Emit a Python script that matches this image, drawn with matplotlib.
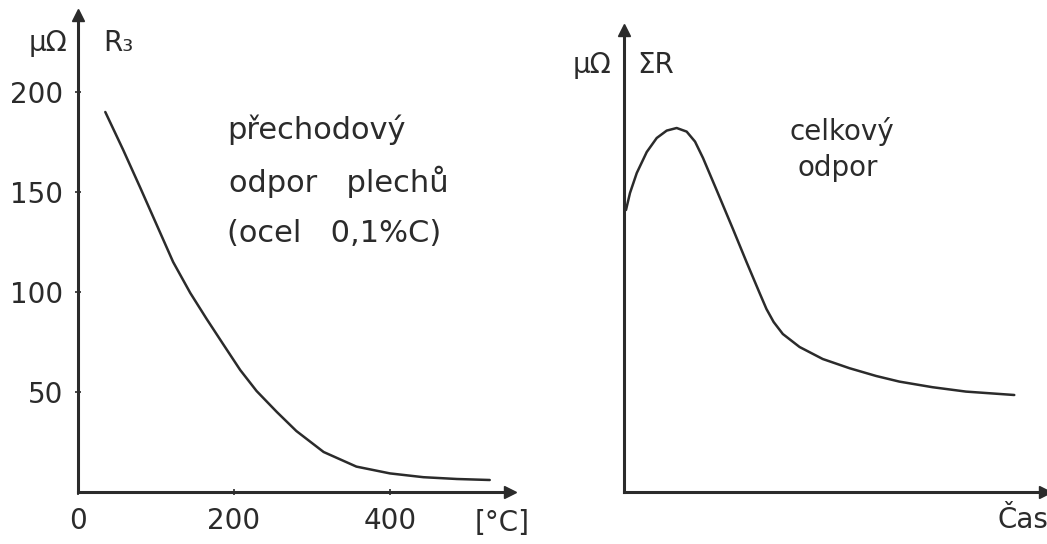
import matplotlib
matplotlib.use("Agg")
import matplotlib.pyplot as plt

# left panel: contact resistance between sheets vs temperature
temp_c = [35, 58, 80, 101, 122, 144, 165, 186, 208, 229, 255, 280, 315, 357, 400, 443, 486, 528]
r3_uohm = [190, 171, 152, 133.5, 115, 99.5, 86.5, 74, 61, 50.5, 40, 30.5, 20, 12.7, 9.3, 7.4, 6.5, 6]
x_ticks = [0, 200, 400]
y_ticks = [50, 100, 150, 200]

# right panel: total resistance vs time (no scale on the original)
time_rel = [0.05, 0.15, 0.32, 0.57, 0.82, 1.07, 1.32, 1.57, 1.78, 1.98, 2.32, 2.73,
            3.07, 3.4, 3.57, 3.75, 3.98, 4.4, 4.98, 5.65, 6.32, 6.9, 7.73, 8.57, 9.78]
sum_r = [141, 149.5, 159.5, 170, 177, 180.7, 182, 180.2, 175.2, 167, 151, 131.5,
         115, 99.4, 91.5, 85, 79, 72.5, 66.5, 61.9, 58, 55.2, 52.4, 50.2, 48.5]

INK = "#2b2b2b"
plt.rcParams["font.family"] = ["DejaVu Sans"]
FS = 20

fig = plt.figure(figsize=(10.47, 5.44), dpi=100)
W, H = 1047, 544

ax1 = fig.add_axes([78 / W, 52 / H, (510 - 78) / W, (492 - 15) / H])
ax2 = fig.add_axes([624 / W, 52 / H, (1045 - 624) / W, (492 - 30) / H])


def sketch_axes(ax):
    for s in ["top", "right"]:
        ax.spines[s].set_visible(False)
    for s in ["left", "bottom"]:
        ax.spines[s].set_color(INK)
        ax.spines[s].set_linewidth(2.2)
    ax.plot(1, 0, ">", color=INK, ms=8, transform=ax.get_yaxis_transform(), clip_on=False)
    ax.plot(0, 1, "^", color=INK, ms=8, transform=ax.get_xaxis_transform(), clip_on=False)
    ax.set_facecolor("none")


# left
sketch_axes(ax1)
ax1.plot(temp_c, r3_uohm, color=INK, lw=1.8, solid_capstyle="round", solid_joinstyle="round")
ax1.set_xlim(0, 554)
ax1.set_ylim(0, 238.5)
ax1.set_xticks(x_ticks)
ax1.set_yticks(y_ticks)
ax1.tick_params(direction="inout", length=5, width=1.2, color=INK,
                labelsize=FS, labelcolor=INK, pad=8)
ax1.text(-38.5, 224.5, "µΩ", fontsize=FS, color=INK, ha="center", va="center")
ax1.text(32, 224.5, "R₃", fontsize=FS, color=INK, ha="left", va="center")
ax1.text(191, 181, "přechodový", fontsize=22, color=INK, ha="left", va="center")
ax1.text(194, 155, "odpor   plechů", fontsize=22, color=INK, ha="left", va="center")
ax1.text(191, 129, "(ocel   0,1%C)", fontsize=22, color=INK, ha="left", va="center")
ax1.text(509, -15.5, "[°C]", fontsize=FS, color=INK, ha="left", va="center", clip_on=False)

# right
sketch_axes(ax2)
ax2.plot(time_rel, sum_r, color=INK, lw=1.8, solid_capstyle="round", solid_joinstyle="round")
ax2.set_xlim(0, 10.55)
ax2.set_ylim(0, 231)
ax2.set_xticks([])
ax2.set_yticks([])
ax2.text(-0.8, 213.5, "µΩ", fontsize=FS, color=INK, ha="center", va="center")
ax2.text(0.33, 213.5, "ΣR", fontsize=FS, color=INK, ha="left", va="center")
ax2.text(4.15, 180, "celkový", fontsize=FS, color=INK, ha="left", va="center")
ax2.text(4.35, 162, "odpor", fontsize=FS, color=INK, ha="left", va="center")
ax2.text(10.0, -14, "Čas", fontsize=FS, color=INK, ha="center", va="center", clip_on=False)

fig.savefig("out.png", dpi=100, facecolor="white")
